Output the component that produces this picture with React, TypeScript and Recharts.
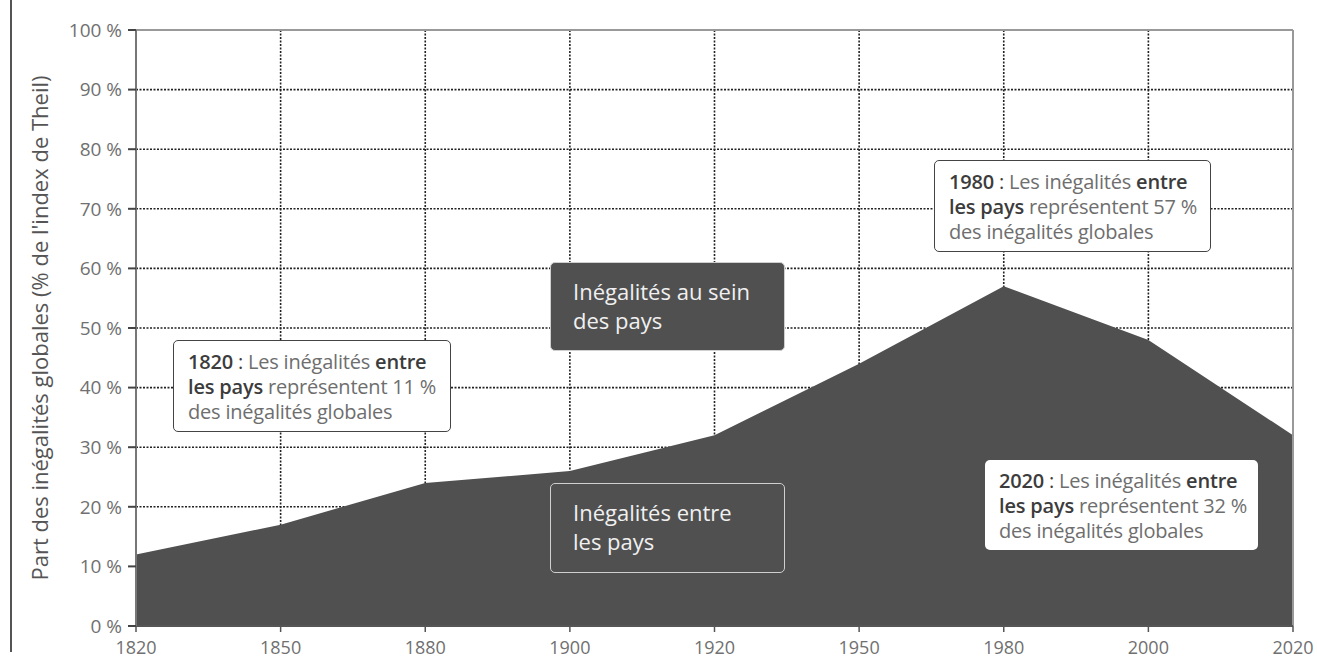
import React from 'react';
import { AreaChart, Area, XAxis, YAxis, CartesianGrid, ReferenceLine } from 'recharts';

const years = ['1820', '1850', '1880', '1900', '1920', '1950', '1980', '2000', '2020'];
const betweenCountries = [12, 17, 24, 26, 32, 44, 57, 48, 32];
const yTicks = [0, 10, 20, 30, 40, 50, 60, 70, 80, 90, 100];

const data = years.map((y, i) => ({ year: y, value: betweenCountries[i] }));

const FONT = '"Open Sans", "Noto Sans", sans-serif';
const DARK = '#3c3c3c';
const GRAY = '#6e6e6e';
const AREA = '#505050';

const boxBase: React.CSSProperties = {
  position: 'absolute',
  boxSizing: 'border-box',
  fontFamily: FONT,
  fontSize: 20,
  lineHeight: '25px',
  borderRadius: 5,
};

function InfoBox({ left, top, width, height, year, pct, border }: any) {
  return (
    <div
      style={{
        ...boxBase,
        left,
        top,
        width,
        height,
        background: '#ffffff',
        border: border ? '1.5px solid #444' : 'none',
        padding: '8px 0 0 14px',
        color: GRAY,
        whiteSpace: 'nowrap',
        letterSpacing: -0.2,
      }}
    >
      <span style={{ color: DARK, fontWeight: 600 }}>{year}</span>
      <span style={{ color: DARK }}> : </span>
      Les inégalités <span style={{ color: DARK, fontWeight: 600 }}>entre</span>
      <br />
      <span style={{ color: DARK, fontWeight: 600 }}>les pays</span> représentent {pct}
      <br />
      des inégalités globales
    </div>
  );
}

function DarkBox({ left, top, width, height, lines }: any) {
  return (
    <div
      style={{
        ...boxBase,
        left,
        top,
        width,
        height,
        background: AREA,
        border: '1.5px solid #cfcfcf',
        padding: '14px 0 0 22px',
        color: '#f0f0f0',
        fontSize: 22,
        lineHeight: '29px',
        whiteSpace: 'nowrap',
      }}
    >
      {lines[0]}
      <br />
      {lines[1]}
    </div>
  );
}

const YLabel = (props: any) => {
  const vb = props.viewBox || {};
  const cy = vb.y + vb.height / 2;
  return (
    <text
      x={39}
      y={cy}
      transform={`rotate(-90, 39, ${cy})`}
      textAnchor="middle"
      dominantBaseline="central"
      fill="#555"
      fontSize={22}
      fontFamily={FONT}
    >
      Part des inégalités globales  (% de l'index de Theil)
    </text>
  );
};

export default function App() {
  return (
    <div
      style={{
        position: 'absolute',
        left: 0,
        top: 0,
        width: 1317,
        height: 670,
        background: '#fff',
        overflow: 'hidden',
      }}
    >
      <div style={{ position: 'absolute', left: 10, top: 0, width: 1.5, height: 652, background: '#555' }} />
      <AreaChart
        width={1317}
        height={670}
        data={data}
        margin={{ top: 30, right: 24, bottom: 4, left: 0 }}
      >
        <CartesianGrid
          stroke="#222"
          strokeWidth={1.6}
          strokeDasharray="2 1.5"
          vertical={true}
          horizontal={true}
        />
        <XAxis
          dataKey="year"
          type="category"
          height={40}
          tickSize={6}
          tickMargin={9}
          axisLine={{ stroke: '#555', strokeWidth: 2 }}
          tickLine={{ stroke: '#555', strokeWidth: 1.5 }}
          tick={{ fill: '#707070', fontSize: 18, fontFamily: FONT }}
          interval={0}
        />
        <YAxis
          type="number"
          domain={[0, 100]}
          ticks={yTicks}
          width={136}
          tickSize={8}
          tickMargin={6}
          tickFormatter={(v: number) => `${v} %`}
          axisLine={{ stroke: '#777', strokeWidth: 2 }}
          tickLine={{ stroke: '#444', strokeWidth: 2 }}
          tick={{ fill: '#707070', fontSize: 19, fontFamily: FONT }}
          label={<YLabel />}
        />
        <ReferenceLine y={100} stroke="#999" strokeWidth={2} ifOverflow="extendDomain" />
        <Area
          type="linear"
          dataKey="value"
          stroke="none"
          fill={AREA}
          fillOpacity={1}
          isAnimationActive={false}
        />
        <ReferenceLine x="2020" stroke="#999" strokeWidth={2} />
      </AreaChart>
      <InfoBox left={173} top={340} width={278} height={92} year="1820" pct="11 %" border />
      <DarkBox left={550} top={262} width={235} height={89} lines={['Inégalités au sein', 'des pays']} />
      <DarkBox left={550} top={483} width={235} height={90} lines={['Inégalités entre', 'les pays']} />
      <InfoBox left={934} top={160} width={277} height={92} year="1980" pct="57 %" border />
      <InfoBox left={985} top={460} width={273} height={90} year="2020" pct="32 %" />
    </div>
  );
}
